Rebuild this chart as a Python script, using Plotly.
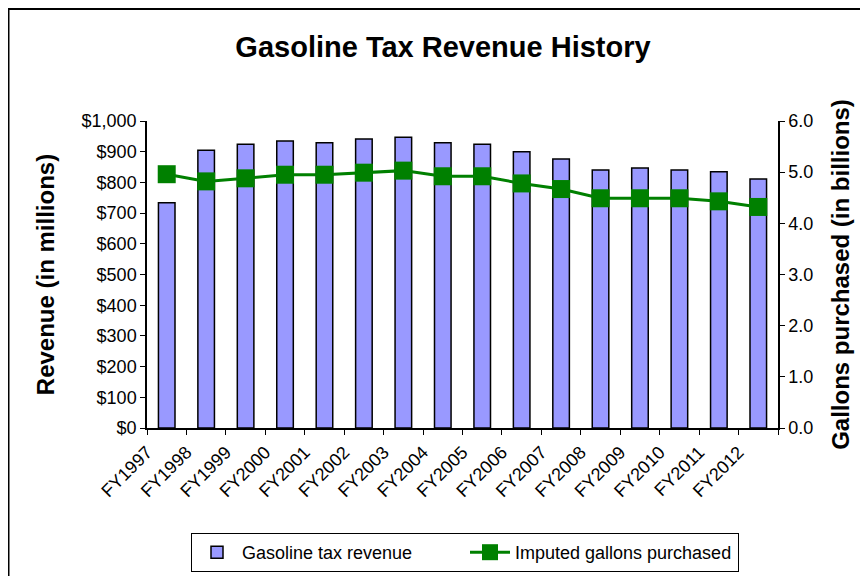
import plotly.graph_objects as go

categories = ["FY1997", "FY1998", "FY1999", "FY2000", "FY2001", "FY2002", "FY2003", "FY2004",
              "FY2005", "FY2006", "FY2007", "FY2008", "FY2009", "FY2010", "FY2011", "FY2012"]
revenue = [734, 905, 924, 935, 929, 941, 947, 929, 924, 900, 876, 840, 847, 840, 835, 811]
gallons = [4.96, 4.82, 4.88, 4.95, 4.95, 4.99, 5.03, 4.92, 4.92, 4.78, 4.67, 4.49, 4.49, 4.49, 4.43, 4.32]
left_ticks = [0, 100, 200, 300, 400, 500, 600, 700, 800, 900, 1000]
right_ticks = [0, 1, 2, 3, 4, 5, 6]

FONT = "Arial, Liberation Sans, sans-serif"
xpos = list(range(len(categories)))

fig = go.Figure()
fig.add_trace(go.Bar(
    x=xpos, y=revenue, name="Gasoline tax revenue", width=0.42,
    marker=dict(color="#9999FF", line=dict(color="black", width=1.5)),
))
fig.add_trace(go.Scatter(
    x=xpos, y=gallons, name="Imputed gallons purchased", yaxis="y2",
    mode="lines+markers",
    line=dict(color="#008000", width=3),
    marker=dict(symbol="square", size=18, color="#008000"),
))

tickvals = [i - 0.5 for i in range(len(categories) + 1)]
ticktext = categories + [""]
left_text = ["${:,}".format(v) for v in left_ticks]
right_text = ["{:.1f}".format(v) for v in right_ticks]

# page has an 8px body margin, so the figure is 860x568 and offsets are page - 8
FW, FH = 860, 568
OFF = 8
L, R, T, B = 147 - OFF, 778 - OFF, 121 - OFF, 428 - OFF
W, H = R - L, B - T

def px_x(x):
    return (x - OFF - L) / W

def px_y(y):
    return (B - (y - OFF)) / H

fig.update_layout(
    width=FW, height=FH,
    margin=dict(l=L, r=FW - R, t=T, b=FH - B),
    paper_bgcolor="white", plot_bgcolor="white",
    font=dict(family=FONT, color="black", size=18),
    title=dict(text="<b>Gasoline Tax Revenue History</b>", x=px_x(443), xref="paper",
               xanchor="center", y=1 - (47 - OFF) / FH, yanchor="middle",
               font=dict(size=29, family=FONT)),
    showlegend=True,
    legend=dict(orientation="h", xref="container", yref="container",
                x=(191 - OFF) / FW, xanchor="left",
                y=1 - (533 - OFF) / FH, yanchor="top",
                bordercolor="black", borderwidth=1, bgcolor="white",
                entrywidth=218, entrywidthmode="pixels",
                font=dict(size=18, family=FONT), itemwidth=40, tracegroupgap=0),
    xaxis=dict(range=[-0.5, 15.5], tickmode="array", tickvals=tickvals, ticktext=ticktext,
               tickangle=-45, ticks="outside", ticklen=5, tickcolor="black", automargin=False,
               showline=True, linecolor="black", linewidth=1.5, showgrid=False, zeroline=False,
               tickfont=dict(size=18)),
    yaxis=dict(range=[0, 1000], tickmode="array", tickvals=left_ticks, ticktext=left_text,
               ticks="outside", ticklen=5, tickcolor="black", automargin=False,
               showline=True, linecolor="black", linewidth=1.5, showgrid=False, zeroline=False,
               title=dict(text="<b>Revenue (in millions)</b>", font=dict(size=24), standoff=20),
               tickfont=dict(size=18)),
    yaxis2=dict(range=[0, 6], tickmode="array", tickvals=right_ticks, ticktext=right_text,
                overlaying="y", side="right", ticks="outside", ticklen=5, tickcolor="black",
                automargin=False,
                showline=True, linecolor="black", linewidth=1.5, showgrid=False, zeroline=False,
                title=dict(text="<b>Gallons purchased (in billions)</b>", font=dict(size=24), standoff=20),
                tickfont=dict(size=18)),
)

# outer chart border (only top and left edges are visible in the reference)
fig.add_shape(type="rect", xref="paper", yref="paper",
              x0=px_x(8.5), x1=px_x(920),
              y0=px_y(640), y1=px_y(9),
              line=dict(color="black", width=2), fillcolor="rgba(0,0,0,0)", layer="below")

fig.write_html("out.html")
